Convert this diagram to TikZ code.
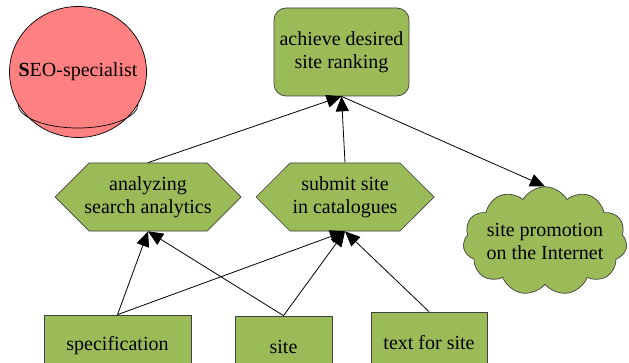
\documentclass[tikz,border=0pt]{standalone}
\usepackage{fontspec}
\setmainfont{Liberation Serif}
\usepackage{tikz}
\usetikzlibrary{positioning,arrows.meta,shapes.geometric,shapes.symbols}
\definecolor{leaf}{RGB}{155,187,89}
\definecolor{salmon}{RGB}{255,128,128}

\begin{document}
\begin{tikzpicture}[x=1pt, y=1pt, >={Triangle[length=15pt,width=13pt]},
  font=\rmfamily\fontsize{20}{23}\selectfont,
  base/.style={draw=black!75, fill=leaf, align=center, inner sep=2pt, line width=0.7pt},
  goal/.style={base, rounded corners=12pt, minimum width=135pt, minimum height=88pt},
  task/.style={base, signal, signal to=east and west, signal pointer angle=90, inner xsep=-12pt, minimum height=68pt},
  input/.style={base, rectangle, minimum height=62pt},
  cloudbox/.style={base, cloud, cloud puffs=11, cloud puff arc=120, aspect=1.6, inner sep=-8pt, minimum width=164pt, minimum height=100pt},
  actor/.style={draw, ellipse, fill=salmon, line width=0.7pt, minimum width=137pt, minimum height=131pt, inner sep=-20pt},
  link/.style={->, line width=0.8pt}]
\useasboundingbox (0,0) rectangle (629,362);
\node[actor] (seo) at (78,290) {{\bfseries S}EO-specialist};
\draw[line width=0.7pt] (seo.center) ++(-60,-32) arc[start angle=180, end angle=360, x radius=60, y radius=24];
\node[goal] (achieve) at (341.5,310) {achieve desired\\site ranking};
\node[task, minimum width=178pt] (submit) at (345,165) {submit site\\in catalogues};
\node[task, minimum width=186pt, left=14pt of submit] (analyze) {analyzing\\search analytics};
\node[cloudbox] (promo) at (545,121) {site promotion\\on the Internet};
\node[input, minimum width=147pt] (spec) at (117.5,16) {specification};
\node[input, minimum width=97pt] (site) at (283.5,15) {site};
\node[input, minimum width=116pt] (text) at (429,19) {text for site};
% links to the goal
\draw[link] (analyze.north) -- (achieve.south);
\draw[link] (submit.north) -- (achieve.south);
\draw[link] (achieve.south) -- (promo.north);
% inputs
\foreach \src in {spec,site}{ \foreach \dst in {analyze,submit}{
  \draw[link] (\src.north) -- (\dst.south); }}
\draw[link] (text.north) -- (submit.south);
\end{tikzpicture}
\end{document}
